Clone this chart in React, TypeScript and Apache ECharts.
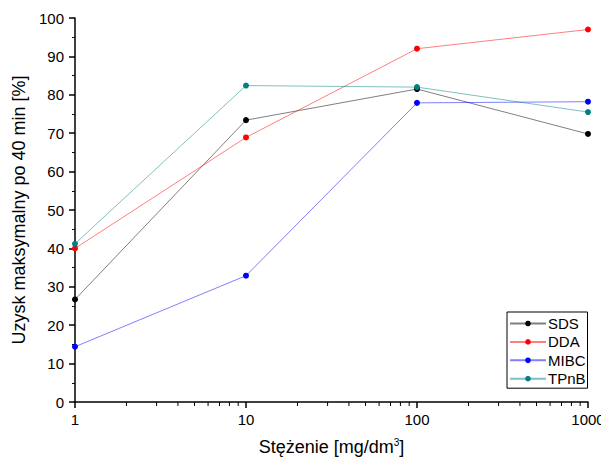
import React, { useEffect, useRef } from "react";
import * as echarts from "echarts";

const concentrations = [1, 10, 100, 1000];
const sds = [26.7, 73.4, 81.5, 69.8];
const dda = [40.0, 68.9, 92.0, 97.0];
const mibc = [14.4, 32.9, 77.9, 78.2];
const tpnb = [41.2, 82.4, 82.0, 75.5];

const seriesNames = ["SDS", "DDA", "MIBC", "TPnB"];
const seriesColors = ["#000000", "#ff0000", "#0000ff", "#008080"];
const seriesValues = [sds, dda, mibc, tpnb];

const minorDecadeSteps = [2, 3, 4, 5, 6, 7, 8, 9];
const decades = [1, 10, 100];

const FONT = "'Liberation Sans', Arial, sans-serif";

export default function App() {
  const ref = useRef<HTMLDivElement>(null);

  useEffect(() => {
    if (!ref.current) return;
    const chart = echarts.init(ref.current, undefined, { renderer: "svg" });

    const series = seriesNames.map((name, i) => ({
      name,
      type: "line",
      data: concentrations.map((c, j) => [c, seriesValues[i][j]]),
      symbol: "circle",
      symbolSize: 6,
      itemStyle: { color: seriesColors[i] },
      lineStyle: { color: seriesColors[i], width: 1, opacity: 0.5 },
      emphasis: { disabled: true },
    }));

    chart.setOption({
      animation: false,
      backgroundColor: "#ffffff",
      textStyle: { fontFamily: FONT },
      grid: { left: 75, right: 21, top: 18, bottom: 65, containLabel: false },
      legend: {
        orient: "vertical",
        left: 507,
        top: 312,
        data: seriesNames,
        itemWidth: 36,
        itemHeight: 7,
        itemGap: 3.4,
        padding: [4, 2, 2, 2],
        borderColor: "#000000",
        borderWidth: 1,
        backgroundColor: "#ffffff",
        textStyle: { fontFamily: FONT, fontSize: 15, color: "#000000", padding: [0, 0, 0, -3] },
      },
      xAxis: {
        type: "log",
        logBase: 10,
        min: 1,
        max: 1000,
        name: "Stężenie [mg/dm{sup|3}]",
        nameLocation: "middle",
        nameGap: 35,
        nameTextStyle: {
          fontFamily: FONT,
          fontSize: 18,
          color: "#000000",
          rich: { sup: { fontSize: 10, verticalAlign: "top", padding: [0, 0, 9, 0], fontFamily: FONT, color: "#000" } },
        },
        axisLine: { show: true, onZero: false, lineStyle: { color: "#000000", width: 1.5 } },
        axisTick: { show: true, inside: false, length: 6, lineStyle: { color: "#000000", width: 1.5 } },
        axisLabel: {
          fontFamily: FONT,
          fontSize: 15,
          color: "#000000",
          margin: 10,
          formatter: (v: number) => String(Math.round(v)),
        },
        splitLine: { show: false },
        minorTick: { show: false },
      },
      yAxis: {
        type: "value",
        min: 0,
        max: 100,
        interval: 10,
        name: "Uzysk maksymalny po 40 min [%]",
        nameLocation: "middle",
        nameGap: 44,
        nameRotate: 90,
        nameTextStyle: { fontFamily: FONT, fontSize: 18, color: "#000000" },
        axisLine: { show: true, lineStyle: { color: "#000000", width: 1.5 } },
        axisTick: { show: true, inside: false, length: 6, lineStyle: { color: "#000000", width: 1.5 } },
        minorTick: { show: true, splitNumber: 2, length: 3, lineStyle: { color: "#000000", width: 1 } },
        axisLabel: { fontFamily: FONT, fontSize: 15, color: "#000000", margin: 11 },
        splitLine: { show: false },
      },
      series,
    });

    // Minor ticks of the logarithmic axis at 2..9 within each decade
    const y0 = chart.convertToPixel({ yAxisIndex: 0 }, 0) as number;
    const minorLines: any[] = [];
    decades.forEach((d) => {
      minorDecadeSteps.forEach((s) => {
        const x = chart.convertToPixel({ xAxisIndex: 0 }, d * s) as number;
        minorLines.push({
          type: "line",
          shape: { x1: x, y1: y0, x2: x, y2: y0 + 4 },
          style: { stroke: "#000000", lineWidth: 1 },
          silent: true,
        });
      });
    });
    chart.setOption({ graphic: minorLines });

    return () => chart.dispose();
  }, []);

  return <div ref={ref} style={{ width: 609, height: 467, margin: -8 }} />;
}
